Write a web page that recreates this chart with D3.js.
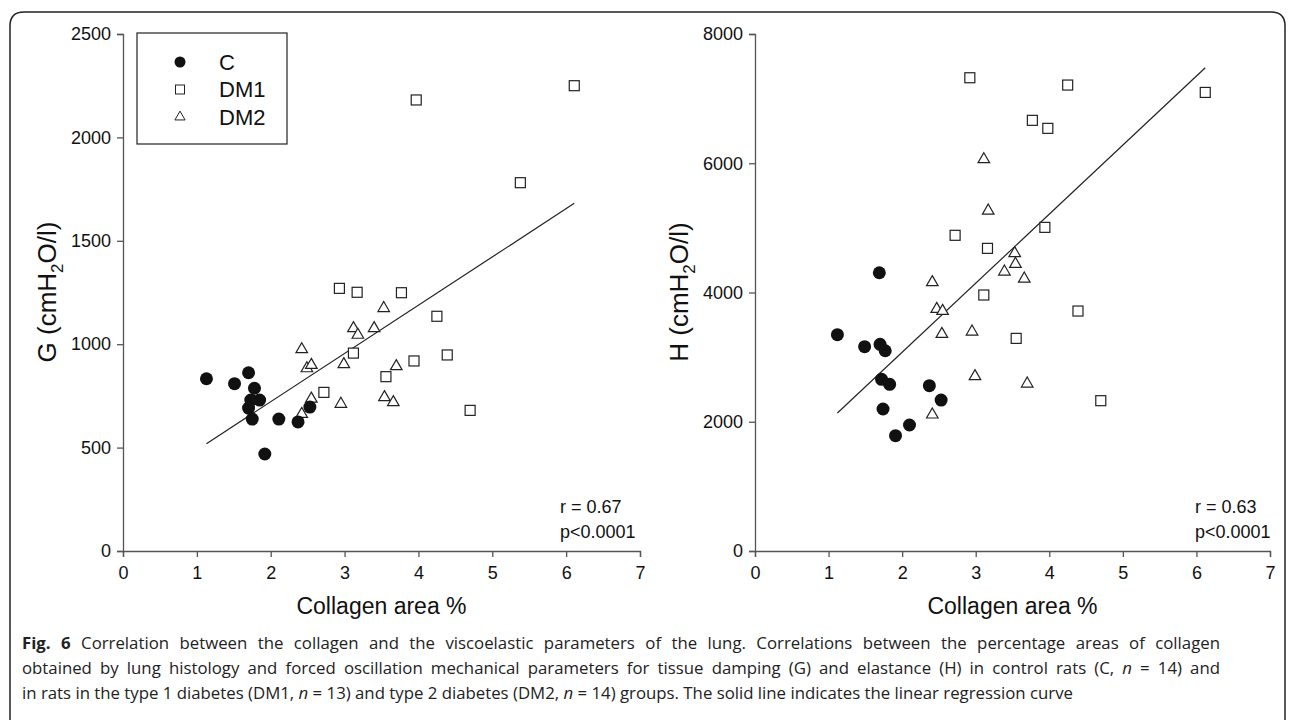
<!DOCTYPE html>
<html><head><meta charset="utf-8">
<script src="https://cdn.jsdelivr.net/npm/d3@7"></script>
<style>
html,body{margin:0;padding:0;background:#fff;}
svg{display:block;}
</style></head>
<body>
<svg id="chart" width="1295" height="720"></svg>
<script>
// ---------- data ----------
const groups = ["C", "DM1", "DM2"];
const xTicks = [0, 1, 2, 3, 4, 5, 6, 7];
const gTicks = [0, 500, 1000, 1500, 2000, 2500];
const hTicks = [0, 2000, 4000, 6000, 8000];

// Left panel: G (cmH2O/l) vs collagen area %
const gC_x   = [1.13, 1.51, 1.70, 1.78, 1.73, 1.85, 1.70, 1.75, 2.11, 2.37, 2.53, 1.92];
const gC_y   = [833, 809, 862, 787, 730, 730, 691, 638, 638, 624, 696, 469];
const gDM1_x = [2.93, 3.17, 3.77, 4.25, 4.39, 3.94, 3.56, 3.12, 2.72, 3.97, 6.11, 5.38, 4.70];
const gDM1_y = [1270, 1251, 1249, 1135, 948, 919, 843, 957, 767, 2181, 2250, 1781, 680];
const gDM2_x = [2.42, 2.49, 2.55, 2.99, 3.12, 3.18, 3.40, 3.53, 3.70, 3.54, 3.66, 2.95, 2.55, 2.42];
const gDM2_y = [975, 883, 899, 903, 1077, 1045, 1077, 1174, 893, 743, 719, 711, 736, 662];

// Right panel: H (cmH2O/l) vs collagen area %
const hC_x   = [1.69, 1.12, 1.49, 1.70, 1.77, 1.72, 1.83, 2.37, 2.53, 1.74, 2.10, 1.91];
const hC_y   = [4306, 3347, 3161, 3198, 3099, 2657, 2579, 2558, 2336, 2197, 1950, 1784];
const hDM1_x = [2.72, 3.16, 3.94, 3.11, 4.39, 3.55, 4.70, 2.92, 4.25, 3.77, 3.98, 6.12];
const hDM1_y = [4885, 4683, 5008, 3961, 3713, 3290, 2326, 7323, 7210, 6664, 6540, 7096];
const hDM2_x = [3.11, 3.17, 2.41, 2.47, 2.55, 2.54, 2.95, 2.99, 2.41, 3.53, 3.54, 3.39, 3.66, 3.70];
const hDM2_y = [6060, 5265, 4158, 3744, 3713, 3357, 3393, 2703, 2110, 4607, 4441, 4322, 4213, 2589];

// Linear regression lines (end points)
const fitG_x = [1.13, 6.11];
const fitG_y = [519, 1681];
const fitH_x = [1.12, 6.12];
const fitH_y = [2135, 7478];

const statsG = ["r = 0.67", "p<0.0001"];
const statsH = ["r = 0.63", "p<0.0001"];

// ---------- drawing ----------
const svg = d3.select("#chart");
const FONT = "'Liberation Sans', Arial, sans-serif";
const AXC = "#555";

// outer frame with rounded top corners
svg.append("path")
  .attr("d", "M10,730 L10,26 Q10,12 24,12 L1271,12 Q1285,12 1285,26 L1285,730")
  .attr("fill", "none").attr("stroke", "#222").attr("stroke-width", 1.5);

function zipPts(xs, ys){ return xs.map((x,i)=>({x, y: ys[i]})); }

function panel(opt){
  const x = d3.scaleLinear().domain([0,7]).range([opt.x0, opt.x1]);
  const y = d3.scaleLinear().domain([0, opt.ymax]).range([551, 34]);
  const g = svg.append("g");

  const xa = g.append("g").attr("transform", "translate(0,551)")
    .call(d3.axisBottom(x).tickValues(xTicks).tickSize(6).tickPadding(7).tickFormat(d3.format("d")));
  const ya = g.append("g").attr("transform", `translate(${opt.x0},0)`)
    .call(d3.axisLeft(y).tickValues(opt.ticks).tickSize(6).tickPadding(6).tickFormat(d3.format("d")));
  [xa, ya].forEach(a => {
    a.select(".domain").attr("stroke", AXC).attr("stroke-width", 1.3);
    a.selectAll(".tick line").attr("stroke", AXC).attr("stroke-width", 1.3);
    a.selectAll(".tick text").attr("fill", "#111").style("font-family", FONT).style("font-size", "18px");
  });
  xa.selectAll(".tick text").attr("dy", "0.85em");

  // axis titles
  g.append("text").attr("x", (opt.x0+opt.x1)/2).attr("y", 614)
    .attr("text-anchor", "middle").style("font-family", FONT).style("font-size", "23px").attr("fill", "#111")
    .text("Collagen area %");
  const yt = g.append("text")
    .attr("transform", `translate(${opt.ytx},292) rotate(-90)`)
    .attr("text-anchor", "middle").style("font-family", FONT).style("font-size", "26px").attr("fill", "#111");
  yt.append("tspan").text(opt.letter + " (cmH");
  yt.append("tspan").attr("dy", 7).style("font-size", "17px").text("2");
  yt.append("tspan").attr("dy", -7).text("O/l)");

  // regression line
  g.append("path")
    .datum(zipPts(opt.fitX, opt.fitY))
    .attr("d", d3.line().x(d=>x(d.x)).y(d=>y(d.y)))
    .attr("stroke", "#222").attr("stroke-width", 1.2).attr("fill", "none");

  // markers
  const tri = d3.symbol().type(d3.symbolTriangle).size(58);
  g.selectAll(".dm2").data(zipPts(opt.dm2x, opt.dm2y)).enter().append("path")
    .attr("transform", d=>`translate(${x(d.x)},${y(d.y)})`)
    .attr("d", tri).attr("fill", "#fff").attr("stroke", "#222").attr("stroke-width", 1.2);
  g.selectAll(".dm1").data(zipPts(opt.dm1x, opt.dm1y)).enter().append("rect")
    .attr("x", d=>x(d.x)-5).attr("y", d=>y(d.y)-5).attr("width", 10).attr("height", 10)
    .attr("fill", "#fff").attr("stroke", "#222").attr("stroke-width", 1.2);
  g.selectAll(".c").data(zipPts(opt.cx, opt.cy)).enter().append("circle")
    .attr("cx", d=>x(d.x)).attr("cy", d=>y(d.y)).attr("r", 6.5).attr("fill", "#111");

  // stats text
  opt.stats.forEach((s,i)=>{
    g.append("text").attr("x", opt.statX).attr("y", 513 + i*25)
      .style("font-family", FONT).style("font-size", "18px").attr("fill", "#111").text(s);
  });
}

panel({x0:123, x1:640, ymax:2500, ticks:gTicks, letter:"G", ytx:56,
  cx:gC_x, cy:gC_y, dm1x:gDM1_x, dm1y:gDM1_y, dm2x:gDM2_x, dm2y:gDM2_y,
  fitX:fitG_x, fitY:fitG_y, stats:statsG, statX:560});
panel({x0:755, x1:1270, ymax:8000, ticks:hTicks, letter:"H", ytx:688,
  cx:hC_x, cy:hC_y, dm1x:hDM1_x, dm1y:hDM1_y, dm2x:hDM2_x, dm2y:hDM2_y,
  fitX:fitH_x, fitY:fitH_y, stats:statsH, statX:1195});

// legend
const lg = svg.append("g");
lg.append("rect").attr("x", 137).attr("y", 33).attr("width", 150).attr("height", 111)
  .attr("fill", "#fff").attr("stroke", "#222").attr("stroke-width", 1.2);
groups.forEach((gname, i) => {
  const cy = 62 + i*27.5;
  if (gname === "C") lg.append("circle").attr("cx", 180).attr("cy", cy).attr("r", 5.5).attr("fill", "#111");
  if (gname === "DM1") lg.append("rect").attr("x", 175.5).attr("y", cy-4.5).attr("width", 9).attr("height", 9)
      .attr("fill", "#fff").attr("stroke", "#222").attr("stroke-width", 1);
  if (gname === "DM2") lg.append("path").attr("transform", `translate(180,${cy})`)
      .attr("d", d3.symbol().type(d3.symbolTriangle).size(45)).attr("fill", "#fff").attr("stroke", "#222").attr("stroke-width", 1);
  lg.append("text").attr("x", 219).attr("y", cy).attr("dy", "0.36em")
    .style("font-family", FONT).style("font-size", "22px").attr("fill", "#111").text(gname);
});

// caption (first two lines justified to the right edge)
const CAPF = "'Open Sans', Lato, sans-serif";
const capX = 22, capRight = 1220;
function capLine(y, parts, justify){
  const t = svg.append("text").attr("x", capX).attr("y", y)
    .style("font-family", CAPF).style("font-size", "16.8px").attr("fill", "#222");
  parts.forEach(p => {
    const s = t.append("tspan").text(p.t);
    if (p.b) s.style("font-weight", "bold");
    if (p.i) s.style("font-style", "italic");
  });
  if (justify) {
    const w = t.node().getComputedTextLength();
    const spaces = parts.map(p=>p.t).join("").split(" ").length - 1;
    t.style("word-spacing", ((capRight - capX - w) / spaces) + "px");
  }
}
capLine(649, [{t:"Fig. 6", b:true}, {t:" Correlation between the collagen and the viscoelastic parameters of the lung. Correlations between the percentage areas of collagen"}], true);
capLine(674, [{t:"obtained by lung histology and forced oscillation mechanical parameters for tissue damping (G) and elastance (H) in control rats (C, "}, {t:"n", i:true}, {t:" = 14) and"}], true);
capLine(699, [{t:"in rats in the type 1 diabetes (DM1, "}, {t:"n", i:true}, {t:" = 13) and type 2 diabetes (DM2, "}, {t:"n", i:true}, {t:" = 14) groups. The solid line indicates the linear regression curve"}], false);
</script>
</body></html>
